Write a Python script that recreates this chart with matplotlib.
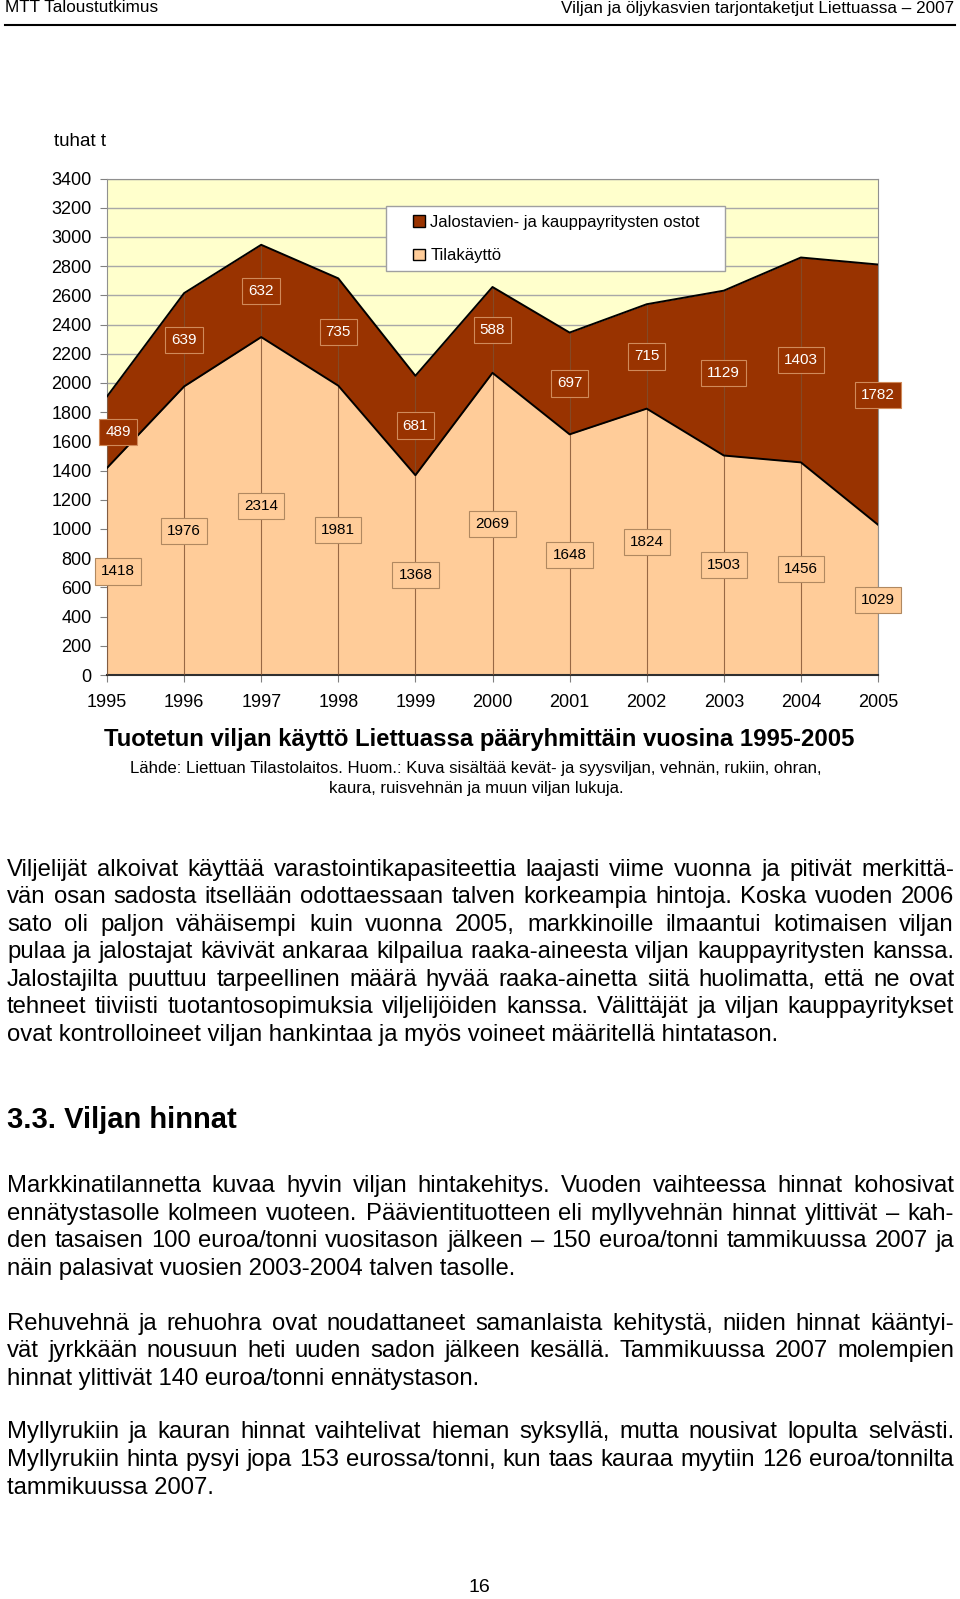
"""Tuotetun viljan käyttö Liettuassa 1995-2005 -- page recreation."""

import matplotlib
matplotlib.use("Agg")
import matplotlib.pyplot as plt
from matplotlib.patches import Patch, Rectangle

# ── Data ─────────────────────────────────────────────────────────────────────
years = ["1995", "1996", "1997", "1998", "1999", "2000",
         "2001", "2002", "2003", "2004", "2005"]
tilakaytto = [1418, 1976, 2314, 1981, 1368, 2069, 1648, 1824, 1503, 1456, 1029]
ostot      = [489, 639, 632, 735, 681, 588, 697, 715, 1129, 1403, 1782]
yticks     = list(range(0, 3401, 200))

series_names = ["Jalostavien- ja kauppayritysten ostot", "Tilakäyttö"]

header_left  = "MTT Taloustutkimus"
header_right = "Viljan ja öljykasvien tarjontaketjut Liettuassa – 2007"
chart_title  = "Tuotetun viljan käyttö Liettuassa pääryhmittäin vuosina 1995-2005"
source_lines = ["Lähde: Liettuan Tilastolaitos. Huom.: Kuva sisältää kevät- ja "
                "syysviljan, vehnän, rukiin, ohran,",
                "kaura, ruisvehnän ja muun viljan lukuja."]

para1 = [
    "Viljelijät alkoivat käyttää varastointikapasiteettia laajasti viime vuonna ja pitivät merkittä-",
    "vän osan sadosta itsellään odottaessaan talven korkeampia hintoja. Koska vuoden 2006",
    "sato oli paljon vähäisempi kuin vuonna 2005, markkinoille ilmaantui kotimaisen viljan",
    "pulaa ja jalostajat kävivät ankaraa kilpailua raaka-aineesta viljan kauppayritysten kanssa.",
    "Jalostajilta puuttuu tarpeellinen määrä hyvää raaka-ainetta siitä huolimatta, että ne ovat",
    "tehneet tiiviisti tuotantosopimuksia viljelijöiden kanssa. Välittäjät ja viljan kauppayritykset",
    "ovat kontrolloineet viljan hankintaa ja myös voineet määritellä hintatason.",
]
heading = "3.3. Viljan hinnat"
para2 = [
    "Markkinatilannetta kuvaa hyvin viljan hintakehitys. Vuoden vaihteessa hinnat kohosivat",
    "ennätystasolle kolmeen vuoteen. Päävientituotteen eli myllyvehnän hinnat ylittivät – kah-",
    "den tasaisen 100 euroa/tonni vuositason jälkeen – 150 euroa/tonni tammikuussa 2007 ja",
    "näin palasivat vuosien 2003-2004 talven tasolle.",
]
para3 = [
    "Rehuvehnä ja rehuohra ovat noudattaneet samanlaista kehitystä, niiden hinnat kääntyi-",
    "vät jyrkkään nousuun heti uuden sadon jälkeen kesällä. Tammikuussa 2007 molempien",
    "hinnat ylittivät 140 euroa/tonni ennätystason.",
]
para4 = [
    "Myllyrukiin ja kauran hinnat vaihtelivat hieman syksyllä, mutta nousivat lopulta selvästi.",
    "Myllyrukiin hinta pysyi jopa 153 eurossa/tonni, kun taas kauraa myytiin 126 euroa/tonnilta",
    "tammikuussa 2007.",
]
page_number = "16"

# ── Style ────────────────────────────────────────────────────────────────────
W, H = 960, 1599
DARK, LIGHT, BG = "#993300", "#FFCC99", "#FFFFCC"
FONT = ["Liberation Sans", "DejaVu Sans"]
plt.rcParams["font.family"] = FONT


def fx(x):
    return x / W


def fy(y):
    return 1 - y / H


fig = plt.figure(figsize=(W / 100, H / 100), dpi=100)
fig.patch.set_facecolor("white")

# ── Page header ──────────────────────────────────────────────────────────────
fig.text(fx(5), fy(8), header_left, fontsize=12.3, va="center", ha="left")
fig.text(fx(954), fy(8), header_right, fontsize=12.3, va="center", ha="right")
fig.add_artist(plt.Line2D([fx(5), fx(955)], [fy(25), fy(25)],
                          color="black", lw=1.5))

# ── Chart ────────────────────────────────────────────────────────────────────
ax = fig.add_axes([fx(107), fy(675), fx(878) - fx(107), fy(178.5) - fy(675)])
ax.set_facecolor(BG)
x = list(range(len(years)))
total = [a + b for a, b in zip(tilakaytto, ostot)]

ax.fill_between(x, 0, tilakaytto, color=LIGHT, lw=0, zorder=2)
ax.fill_between(x, tilakaytto, total, color=DARK, lw=0, zorder=2)
ax.vlines(x, 0, total, colors="#7F4F2F", lw=0.8, alpha=0.8, zorder=3)
ax.plot(x, tilakaytto, color="black", lw=1.4, zorder=4)
ax.plot(x, total, color="black", lw=1.4, zorder=4)

ax.set_xlim(0, len(years) - 1)
ax.set_ylim(0, 3400)
ax.set_yticks(yticks)
ax.set_yticklabels([str(v) for v in yticks], fontsize=13)
ax.set_xticks(x)
ax.set_xticklabels(years, fontsize=13)
ax.yaxis.grid(True, color="#A8A8A8", lw=1, zorder=1)
ax.set_axisbelow(True)
ax.tick_params(axis="y", length=5, color="#808080", pad=6)
ax.tick_params(axis="x", length=5, color="#808080", pad=9)
for side in ["left", "right", "top"]:
    ax.spines[side].set_color("#909090")
ax.spines["bottom"].set_color("#303030")
ax.spines["bottom"].set_linewidth(1.5)

# data labels
for i in x:
    dx = 11 if i == 0 else 0
    ax.annotate(str(tilakaytto[i]), (i, tilakaytto[i] / 2),
                xytext=(dx, 0), textcoords="offset pixels",
                ha="center", va="center", fontsize=11, color="black", zorder=6,
                bbox=dict(boxstyle="square,pad=0.4", fc=LIGHT, ec="#B08860", lw=0.8))
    ax.annotate(str(ostot[i]), (i, tilakaytto[i] + ostot[i] / 2),
                xytext=(dx, 0), textcoords="offset pixels",
                ha="center", va="center", fontsize=11, color="white", zorder=6,
                bbox=dict(boxstyle="square,pad=0.4", fc=DARK, ec="#D08A5A", lw=0.8))

fig.text(fx(54), fy(142), "tuhat t", fontsize=13.5, va="center", ha="left")

# legend: frame drawn separately, entries via fig.legend
fig.add_artist(Rectangle((fx(386), fy(271)), fx(725) - fx(386), fy(206) - fy(271),
                         transform=fig.transFigure, fc="white", ec="#A0A0A0",
                         lw=1, zorder=4))
handles = [Patch(fc=DARK, ec="black", lw=1), Patch(fc=LIGHT, ec="black", lw=1)]
fig.legend(handles, series_names, loc="upper left",
           bbox_to_anchor=(fx(413), fy(215)), frameon=False, fontsize=12,
           handlelength=0.7, handleheight=0.7, handletextpad=0.35,
           labelspacing=1.1, borderpad=0, borderaxespad=0)

# chart captions
fig.text(fx(479), fy(739), chart_title, fontsize=17.2, fontweight="bold",
         ha="center", va="center")
fig.text(fx(476), fy(768), source_lines[0], fontsize=12.1, ha="center", va="center")
fig.text(fx(476), fy(788), source_lines[1], fontsize=12.1, ha="center", va="center")

# ── Body text (justified) ───────────────────────────────────────────────────
renderer = fig.canvas.get_renderer()
LEFT, RIGHT = 7, 954
BODY_FS = 17.2


def justified(lines, y0, step=27.55):
    for k, line in enumerate(lines):
        # baseline snapped to whole pixels so words in a line stay level
        y = fy(round(y0 + k * step + 7.5))
        if k == len(lines) - 1:
            fig.text(fx(LEFT), y, line, fontsize=BODY_FS, va="baseline")
            continue
        words = line.split(" ")
        texts = [fig.text(0, y, w, fontsize=BODY_FS, va="baseline")
                 for w in words]
        widths = [t.get_window_extent(renderer).width for t in texts]
        gap = (RIGHT - LEFT - sum(widths)) / (len(words) - 1)
        pos = LEFT
        for t, w in zip(texts, widths):
            t.set_x(fx(pos))
            pos += w + gap


justified(para1, 868)
fig.text(fx(7), fy(1119 + 9.5), heading, fontsize=21, fontweight="bold",
         va="baseline")
justified(para2, 1184.5)
justified(para3, 1322)
justified(para4, 1431)

fig.text(fx(479), fy(1588), page_number, fontsize=14, ha="center", va="center")

fig.savefig("out.png", dpi=100)
